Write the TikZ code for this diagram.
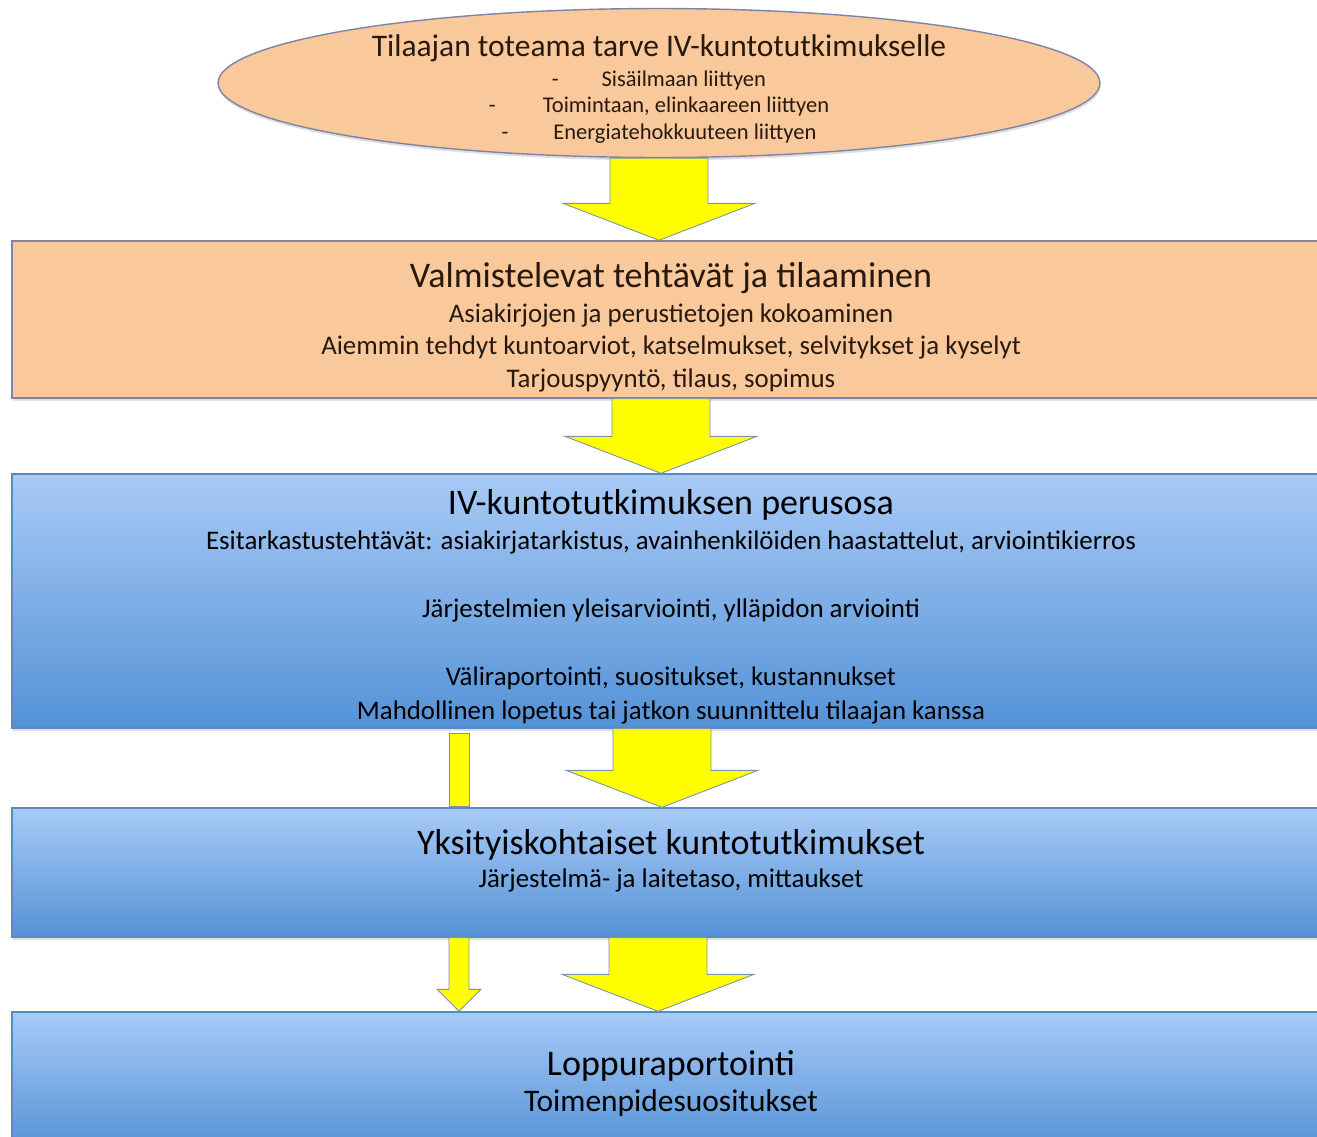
\documentclass[tikz,border=0pt]{standalone}
\usepackage{fontspec}
\setmainfont{Carlito}
\usetikzlibrary{calc,shapes.geometric,shadows}

\definecolor{peach}{RGB}{250,201,155}
\definecolor{peachline}{RGB}{125,132,165}
\definecolor{skytop}{RGB}{168,202,246}
\definecolor{skybottom}{RGB}{84,146,214}
\definecolor{skyline}{RGB}{88,138,198}
\definecolor{arrowfill}{RGB}{255,255,0}
\definecolor{arrowline}{RGB}{125,145,175}
\definecolor{ink}{RGB}{40,25,15}

\tikzset{
  boxshadow/.style={drop shadow={opacity=0.25,shadow xshift=0.4pt,shadow yshift=-1.6pt}},
  needshape/.style={ellipse, draw=peachline, line width=0.8pt, fill=peach,
    minimum width=17.64cm, minimum height=2.98cm, inner sep=0pt, boxshadow},
  prepbox/.style={draw=peachline, line width=0.8pt, fill=peach,
    minimum width=26.36cm, inner sep=0pt, boxshadow},
  stagebox/.style={draw=skyline, line width=0.8pt, top color=skytop, bottom color=skybottom,
    minimum width=26.36cm, inner sep=0pt, boxshadow},
  boxtext/.style={align=center, inner sep=0pt, text=black},
  blockarrow/.style={fill=arrowfill, draw=arrowline, line width=0.5pt, line join=miter},
}

% #1 from, #2 to, #3 axis x, #4 half shaft, #5 half head, #6 head length
\newcommand{\flowarrow}[6]{%
  \coordinate (ax) at (#3,0);
  \filldraw[blockarrow] ($(ax |- #1.south)+(-#4,0)$) -- ($(ax |- #1.south)+(#4,0)$)
    -- ($(ax |- #2.north)+(#4,-#6)$) -- ($(ax |- #2.north)+(#5,-#6)$)
    -- (ax |- #2.north) -- ($(ax |- #2.north)+(-#5,-#6)$)
    -- ($(ax |- #2.north)+(-#4,-#6)$) -- cycle;
}
\newcommand{\titlefont}{\fontsize{20.5}{24}\selectfont}

\begin{document}
\begin{tikzpicture}[x=0.02cm,y=-0.02cm]
        \useasboundingbox (0,0) rectangle (1317,1136);

        % shapes
        \node[needshape] (need) at (659,83) {};
        \node[prepbox, minimum height=3.14cm] (prep) at (671,319.5) {};
        \node[stagebox, minimum height=5.08cm] (perus) at (671,601) {};
        \node[stagebox, minimum height=2.58cm] (yksi) at (671,872.5) {};
        \node[stagebox, minimum height=2.76cm] (loppu) at (671,1081) {};

        % texts
        \node[boxtext, text=ink, font=\fontsize{12.8}{15}\selectfont] (needtext) at (659,89) {%
            {\fontsize{17.9}{21}\selectfont Tilaajan toteama tarve IV-kuntotutkimukselle}\\[2pt]
            -\hspace{1.9em}Sisäilmaan liittyen\\
            -\hspace{2.1em}Toimintaan, elinkaareen liittyen\\
            -\hspace{2em}Energiatehokkuuteen liittyen};

        \node[boxtext, text=ink, font=\fontsize{15.3}{18.4}\selectfont] (preptext) at (671,327) {%
            {\titlefont Valmistelevat tehtävät ja tilaaminen}\\[1.5pt]
            Asiakirjojen ja perustietojen kokoaminen\\
            Aiemmin tehdyt kuntoarviot, katselmukset, selvitykset ja kyselyt\\
            Tarjouspyyntö, tilaus, sopimus};

        \node[boxtext, font=\fontsize{15.3}{19.4}\selectfont] (perustext) at (671,607) {%
            {\titlefont IV-kuntotutkimuksen perusosa}\\
            Esitarkastustehtävät: asiakirjatarkistus, avainhenkilöiden haastattelut, arviointikierros\\
            ~\\
            Järjestelmien yleisarviointi, ylläpidon arviointi\\
            ~\\
            Väliraportointi, suositukset, kustannukset\\
            Mahdollinen lopetus tai jatkon suunnittelu tilaajan kanssa};

        \node[boxtext, font=\fontsize{15.3}{18.6}\selectfont] (yksitext) at (671,861) {%
            {\titlefont Yksityiskohtaiset kuntotutkimukset}\\
            Järjestelmä- ja laitetaso, mittaukset};

        \node[boxtext, font=\fontsize{17.9}{20.5}\selectfont] (lopputext) at (671,1084) {%
            {\titlefont Loppuraportointi}\\
            Toimenpidesuositukset};

        % arrows
        \foreach \from/\to/\xa in {need/prep/659, prep/perus/661, perus/yksi/662, yksi/loppu/658} {
            \flowarrow{\from}{\to}{\xa}{49}{96}{37}
        }

        % side track past the detailed studies
        \coordinate (side) at (459,0);
        \filldraw[blockarrow] ($(side |- perus.south)+(-10,5)$) rectangle ($(side |- yksi.north)+(10,-1)$);
        \flowarrow{yksi}{loppu}{459}{10}{22}{22}

\end{tikzpicture}
\end{document}
